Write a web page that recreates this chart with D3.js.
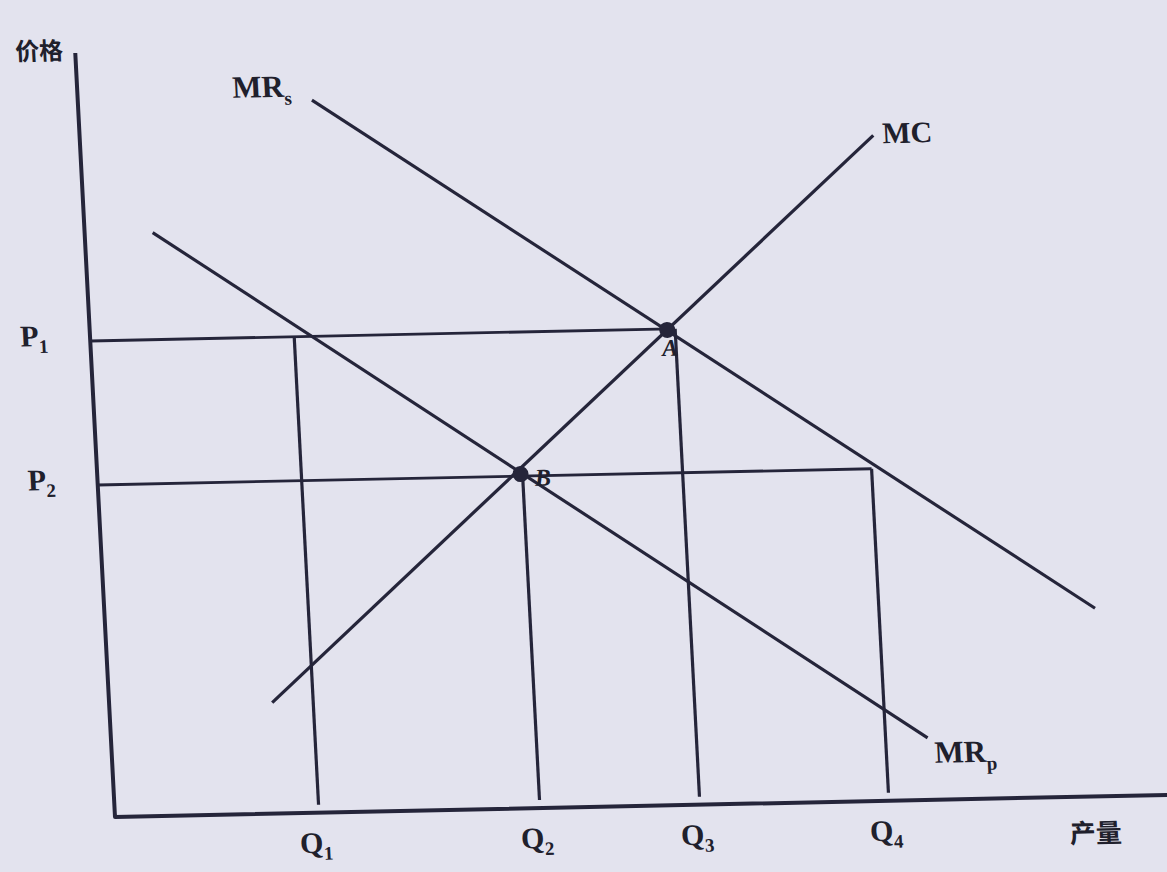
<!DOCTYPE html>
<html>
<head>
<meta charset="utf-8">
<script src="https://cdn.jsdelivr.net/npm/d3@7"></script>
<style>
  html, body { margin: 0; padding: 0; background: #e3e3ee; }
  svg { display: block; }
  text { font-family: "Liberation Serif", "DejaVu Serif", serif; font-weight: bold; fill: #20202c; }
  .cjk { font-family: "Noto Sans CJK SC", sans-serif; }
</style>
</head>
<body>
<div id="chart"></div>
<script>
// axis extents (quantity, price)
const quantityMax = 105.5;
const priceMax = 76.4;

// price levels and quantities
const priceNames = ["1", "2"];
const priceValues = [47.6, 33.2];
const priceReach = [58.0, 77.4];          // quantity where each horizontal ends

const quantityNames = ["1", "2", "3", "4"];
const quantityValues = [20.4, 42.5, 58.5, 77.4];
const quantityReach = [47.6, 33.2, 47.6, 33.2]; // price where each vertical ends

// curves: [quantity, price] end points
const mcLine = [[16.3, 11.1], [79.3, 66.5]];
const mrsLine = [[23.4, 71.2], [99.0, 18.8]];
const mrpLine = [[6.8, 58.3], [81.6, 6.2]];

// equilibrium marks (hand written on the scan)
const marks = [
    { name: "A", q: 57.7, p: 47.5 },
    { name: "B", q: 42.3, p: 33.4 }
];

var width = 1167;
var height = 872;
var ink = "#25253a";

var svg = d3.select("#chart")
    .append("svg")
    .attr("width", width)
    .attr("height", height);

// the scanned figure is a little skewed, so draw in a sheared frame
var g = svg.append("g")
    .attr("transform", "matrix(0.9998,-0.021,0.052,1,115,817)");

const x = d3.scaleLinear().domain([0, 106]).range([0, 1060]);
const y = d3.scaleLinear().domain([0, 77]).range([0, -770]);

const line = d3.line().x(d => x(d[0])).y(d => y(d[1]));

// axes
g.append("path")
    .attr("d", line([[0, priceMax], [0, 0], [quantityMax, 0]]))
    .attr("fill", "none")
    .attr("stroke", ink)
    .attr("stroke-width", 4)
    .attr("stroke-linejoin", "round");

// horizontal price lines
priceValues.forEach((p, i) => {
    g.append("path")
        .attr("d", line([[0, p], [priceReach[i], p]]))
        .attr("stroke", ink)
        .attr("stroke-width", 2.8);
    var t = g.append("text")
        .attr("x", x(0) - 42)
        .attr("y", y(p) + 4)
        .attr("text-anchor", "end")
        .attr("font-size", 30)
        .text("P");
    t.append("tspan").attr("font-size", 19).attr("dy", 7).text(priceNames[i]);
});

// vertical quantity lines
quantityValues.forEach((q, i) => {
    g.append("path")
        .attr("d", line([[q, 0.8], [q, quantityReach[i]]]))
        .attr("stroke", ink)
        .attr("stroke-width", 3.2);
    var t = g.append("text")
        .attr("x", x(q) - 4)
        .attr("y", y(0) + 40)
        .attr("text-anchor", "middle")
        .attr("font-size", 30)
        .text("Q");
    t.append("tspan").attr("font-size", 19).attr("dy", 7).text(quantityNames[i]);
});

// MC, MRs, MRp
[mcLine, mrsLine, mrpLine].forEach(pts => {
    g.append("path")
        .attr("d", line(pts))
        .attr("stroke", ink)
        .attr("stroke-width", 3.2);
});

// curve labels
g.append("text")
    .attr("x", x(mcLine[1][0]) + 9)
    .attr("y", y(mcLine[1][1]) + 8)
    .attr("font-size", 30)
    .text("MC");

var mrs = g.append("text")
    .attr("x", x(mrsLine[0][0]) - 20)
    .attr("y", y(mrsLine[0][1]) - 4)
    .attr("text-anchor", "end")
    .attr("font-size", 31)
    .text("MR");
mrs.append("tspan").attr("font-size", 19).attr("dy", 8).text("s");

var mrp = g.append("text")
    .attr("x", x(mrpLine[1][0]) + 6)
    .attr("y", y(mrpLine[1][1]) + 25)
    .attr("font-size", 31)
    .text("MR");
mrp.append("tspan").attr("font-size", 19).attr("dy", 8).text("p");

// axis titles
g.append("text")
    .attr("class", "cjk")
    .attr("x", x(0) - 12)
    .attr("y", y(priceMax) + 6)
    .attr("text-anchor", "end")
    .attr("font-size", 24)
    .text("价格");

g.append("text")
    .attr("class", "cjk")
    .attr("x", x(97.9))
    .attr("y", y(0) + 46)
    .attr("text-anchor", "middle")
    .attr("font-size", 26)
    .text("产量");

// equilibrium points
marks.forEach(m => {
    g.append("circle")
        .attr("cx", x(m.q))
        .attr("cy", y(m.p))
        .attr("r", 8)
        .attr("fill", ink);
    g.append("text")
        .attr("x", x(m.q) + (m.name === "A" ? -6 : 14))
        .attr("y", y(m.p) + (m.name === "A" ? 26 : 12))
        .attr("font-size", 24)
        .attr("font-style", "italic")
        .attr("font-weight", "normal")
        .text(m.name);
});
</script>
</body>
</html>
